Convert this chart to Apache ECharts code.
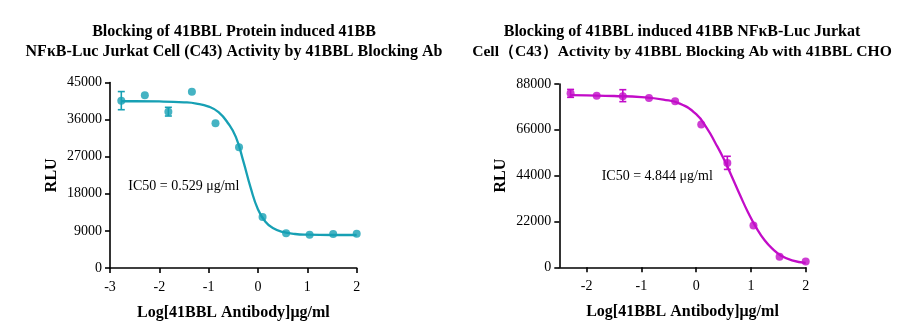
<!DOCTYPE html>
<html><head><meta charset="utf-8">
<script src="https://cdn.jsdelivr.net/npm/echarts@6/dist/echarts.min.js"></script>
<style>html,body{margin:0;padding:0;background:#fff}#c{width:923px;height:331px}</style>
</head><body><div id="c"></div>
<script>
// ---- Left panel data ----
const leftTitle = ['Blocking of 41BBL Protein induced 41BB', 'NF\u03baB-Luc Jurkat Cell (C43) Activity by 41BBL Blocking Ab'];
const leftX = [-2.771, -2.294, -1.817, -1.340, -0.862, -0.385, 0.092, 0.569, 1.046, 1.523, 2.0];
const leftY = [40590, 41890, 37920, 42770, 35100, 29280, 12370, 8410, 8090, 8250, 8330];
const leftErrX = [-2.771, -1.817];
const leftErrLow = [38400, 36870];
const leftErrHigh = [42800, 38980];
const leftCurveX = [-2.77, -2.5, -2.0, -1.5, -1.25, -1.0, -0.8, -0.6, -0.45, -0.3, -0.15, 0.0, 0.15, 0.3, 0.5, 0.75, 1.0, 1.5, 2.0];
const leftCurveY = [40450, 40450, 40400, 40200, 39900, 39150, 37800, 35000, 31800, 26000, 19500, 14200, 11200, 9700, 8750, 8250, 8080, 8000, 8000];
const leftYTicks = [0, 45000, 9000];
const leftXTicks = [-3, 2, 1];
const leftIC50 = 'IC50 = 0.529 \u03bcg/ml';

// ---- Right panel data ----
const rightTitle = ['Blocking of 41BBL induced 41BB NF\u03baB-Luc Jurkat', 'Cell\uff08C43\uff09Activity by 41BBL Blocking Ab with 41BBL CHO'];
const rightX = [-2.294, -1.817, -1.340, -0.862, -0.385, 0.092, 0.569, 1.046, 1.523, 2.0];
const rightY = [83500, 82400, 82100, 81300, 79700, 68600, 50100, 20100, 5100, 2800];
const rightErrX = [-2.294, -1.340, 0.569];
const rightErrLow = [81600, 79530, 47000];
const rightErrHigh = [85400, 85270, 53300];
const rightCurveX = [-2.3, -2.0, -1.5, -1.0, -0.6, -0.3, 0.0, 0.2, 0.35, 0.5, 0.65, 0.8, 0.95, 1.1, 1.25, 1.4, 1.55, 1.75, 2.0];
const rightCurveY = [82700, 82550, 82250, 81700, 80500, 78600, 73500, 66600, 59700, 52200, 43600, 34700, 26200, 18900, 13000, 8700, 5600, 3300, 2100];
const rightYTicks = [0, 88000, 22000];
const rightXRange = [-2.5, 2];
const rightXTickValues = [-2, -1, 0, 1, 2];
const rightIC50 = 'IC50 = 4.844 \u03bcg/ml';

const xName = 'Log[41BBL Antibody]\u03bcg/ml';
const yName = 'RLU';
const teal = '#17a0b4';
const magenta = '#c20cc8';
const SERIF = '"Liberation Serif", "Times New Roman", serif';

const zip = (a, b) => a.map((v, i) => [v, b[i]]);
const zip3 = (a, b, c) => a.map((v, i) => [v, b[i], c[i]]);

function errRender(params, api) {
  const x = api.value(0), lo = api.value(1), hi = api.value(2);
  const pLo = api.coord([x, lo]), pHi = api.coord([x, hi]);
  const w = 3.5;
  const style = { stroke: api.visual('color'), lineWidth: 1.6 };
  return { type: 'group', children: [
    { type: 'line', shape: { x1: pLo[0], y1: pLo[1], x2: pHi[0], y2: pHi[1] }, style },
    { type: 'line', shape: { x1: pLo[0] - w, y1: pLo[1], x2: pLo[0] + w, y2: pLo[1] }, style },
    { type: 'line', shape: { x1: pHi[0] - w, y1: pHi[1], x2: pHi[0] + w, y2: pHi[1] }, style }
  ]};
}

const axisLineCfg = { show: true, onZero: false, lineStyle: { color: '#000', width: 1.6 } };
const tickCfg = { show: true, inside: false, length: 5, lineStyle: { color: '#000', width: 1.6 } };
const labelFont = { fontFamily: SERIF, fontSize: 14, color: '#000' };
const nameFont = { fontFamily: SERIF, fontSize: 16, fontWeight: 'bold', color: '#000' };
const plain = v => String(v);

function yAxisCfg(gi, t) {
  return { type: 'value', gridIndex: gi, min: t[0], max: t[1], interval: t[2],
    name: yName, nameLocation: 'middle', nameGap: 50, nameTextStyle: nameFont,
    axisLine: axisLineCfg, axisTick: tickCfg,
    axisLabel: Object.assign({ margin: 8, showMinLabel: true, showMaxLabel: true, formatter: plain }, labelFont),
    splitLine: { show: false } };
}

const option = {
  animation: false,
  backgroundColor: '#fff',
  grid: [
    { left: 110, top: 82.5, width: 246.7, height: 185.5 },
    { left: 559.3, top: 84, width: 246.4, height: 183.3 }
  ],
  xAxis: [
    { type: 'value', gridIndex: 0, min: leftXTicks[0], max: leftXTicks[1], interval: leftXTicks[2],
      name: xName, nameLocation: 'middle', nameGap: 37, nameTextStyle: nameFont,
      axisLine: axisLineCfg, axisTick: tickCfg,
      axisLabel: Object.assign({ margin: 12, showMinLabel: true, showMaxLabel: true, formatter: plain }, labelFont),
      splitLine: { show: false } },
    { type: 'value', gridIndex: 1, min: rightXRange[0], max: rightXRange[1],
      name: xName, nameLocation: 'middle', nameGap: 37, nameTextStyle: nameFont,
      axisLine: axisLineCfg,
      axisTick: Object.assign({ customValues: rightXTickValues }, tickCfg),
      axisLabel: Object.assign({ margin: 12, customValues: rightXTickValues, formatter: plain }, labelFont),
      splitLine: { show: false } }
  ],
  yAxis: [ yAxisCfg(0, leftYTicks), yAxisCfg(1, rightYTicks) ],
  graphic: [
    { type: 'text', x: 234, y: 31.7, style: { text: leftTitle[0], align: 'center', verticalAlign: 'middle', font: 'bold 16px ' + SERIF, fill: '#000' } },
    { type: 'text', x: 234, y: 51.7, style: { text: leftTitle[1], align: 'center', verticalAlign: 'middle', font: 'bold 16px ' + SERIF, fill: '#000' } },
    { type: 'text', x: 682, y: 31.7, style: { text: rightTitle[0], align: 'center', verticalAlign: 'middle', font: 'bold 16px ' + SERIF, fill: '#000' } },
    { type: 'text', x: 682, y: 51.7, style: { text: rightTitle[1], align: 'center', verticalAlign: 'middle', font: 'bold 15.6px ' + SERIF, fill: '#000' } },
    { type: 'text', x: 128.3, y: 186, style: { text: leftIC50, align: 'left', verticalAlign: 'middle', font: '14px ' + SERIF, fill: '#000' } },
    { type: 'text', x: 601.7, y: 176, style: { text: rightIC50, align: 'left', verticalAlign: 'middle', font: '14px ' + SERIF, fill: '#000' } }
  ],
  series: [
    { type: 'line', xAxisIndex: 0, yAxisIndex: 0, data: zip(leftCurveX, leftCurveY), smooth: 0.5,
      showSymbol: false, symbol: 'none', lineStyle: { color: teal, width: 2.3 }, z: 2 },
    { type: 'scatter', xAxisIndex: 0, yAxisIndex: 0, data: zip(leftX, leftY), symbolSize: 8, itemStyle: { color: teal }, z: 3 },
    { type: 'custom', xAxisIndex: 0, yAxisIndex: 0, data: zip3(leftErrX, leftErrLow, leftErrHigh), renderItem: errRender,
      encode: { x: 0, y: [1, 2] }, itemStyle: { color: teal }, z: 3 },
    { type: 'line', xAxisIndex: 1, yAxisIndex: 1, data: zip(rightCurveX, rightCurveY), smooth: 0.5,
      showSymbol: false, symbol: 'none', lineStyle: { color: magenta, width: 2.3 }, z: 2 },
    { type: 'scatter', xAxisIndex: 1, yAxisIndex: 1, data: zip(rightX, rightY), symbolSize: 8, itemStyle: { color: magenta }, z: 3 },
    { type: 'custom', xAxisIndex: 1, yAxisIndex: 1, data: zip3(rightErrX, rightErrLow, rightErrHigh), renderItem: errRender,
      encode: { x: 0, y: [1, 2] }, itemStyle: { color: magenta }, z: 3 }
  ]
};
const chart = echarts.init(document.getElementById('c'), null, { renderer: 'canvas' });
chart.setOption(option);
</script></body></html>
